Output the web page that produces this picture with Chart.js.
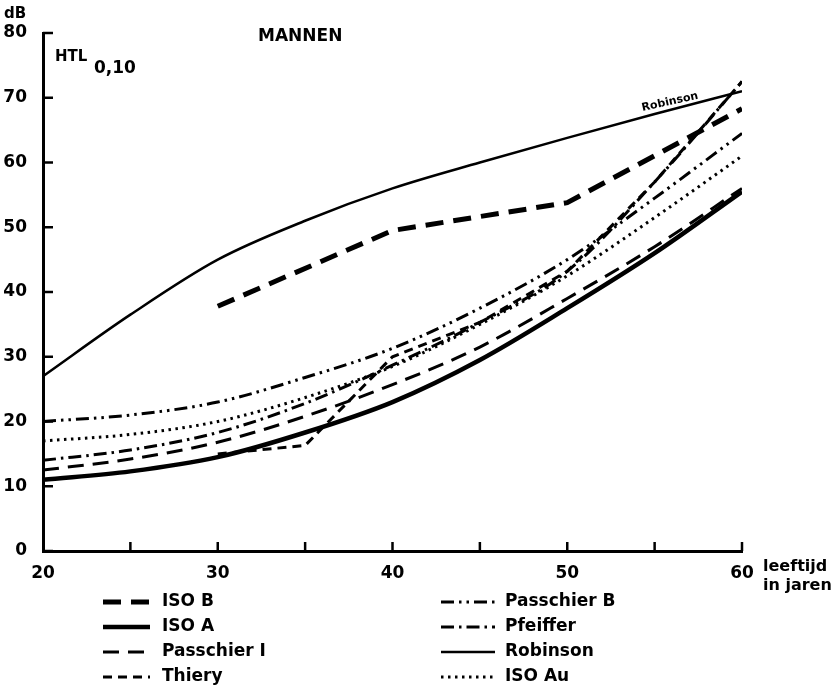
<!DOCTYPE html>
<html>
<head>
<meta charset="utf-8">
<script src="https://cdn.jsdelivr.net/npm/chart.js@4.4.1/dist/chart.umd.min.js"></script>
<style>
  body { margin: 0; background: #fff; }
  canvas { display: block; }
</style>
</head>
<body>
<canvas id="htl" width="834" height="689"></canvas>
<script>
// leeftijden (jaren) en drempelwaarden (dB)
const ages = [20, 25, 30, 35, 40, 45, 50, 55, 60];
const robinson   = [27, 36.5, 45, 51, 56, 60, 63.8, 67.5, 71];
const isoA       = [11, 12.3, 14.5, 18.3, 23, 29.5, 37.5, 46, 55.5];
const passchierI = [12.5, 14.2, 16.8, 20.8, 25.7, 31.5, 39, 47, 56];
const passchierB = [20, 21, 23, 26.8, 31.3, 37.5, 45, 54.5, 64.5];
const pfeiffer   = [14, 15.6, 18.3, 22.8, 28.7, 35.3, 43.2, 57, 72.5];
const isoAu      = [17, 18, 20, 23.7, 28.5, 35, 42.5, 51.5, 61];

const isoBAges = [30, 40, 50, 60];
const isoB     = [37.8, 49.5, 53.8, 68.3];

const thieryAges = [30, 35, 40, 45, 50, 55, 60];
const thiery     = [15, 16.3, 30, 35.3, 43.2, 57, 72.5];

const xTicks = [20, 30, 40, 50, 60];
const yTicks = [0, 10, 20, 30, 40, 50, 60, 70, 80];

const FONT = "'DejaVu Sans', sans-serif";

function pts(xs, ys) {
  return xs.map((x, i) => ({ x: x, y: ys[i] }));
}

function series(label, xs, ys, width, dash, smooth) {
  return {
    label: label,
    data: pts(xs, ys),
    borderColor: "#000",
    borderWidth: width,
    borderDash: dash,
    pointRadius: 0,
    fill: false,
    tension: smooth ? 0.4 : 0,
    cubicInterpolationMode: smooth ? "monotone" : "default"
  };
}

const datasets = [
  series("ISO B", isoBAges, isoB, 5, [18, 10], false),
  series("ISO A", ages, isoA, 4.5, [], true),
  series("Passchier I", ages, passchierI, 3, [16, 9], true),
  series("Thiery", thieryAges, thiery, 3, [9, 6], false),
  series("Passchier B", ages, passchierB, 3, [13, 5, 2.5, 5, 2.5, 5], true),
  series("Pfeiffer", ages, pfeiffer, 3, [13, 5, 2.5, 5], true),
  series("Robinson", ages, robinson, 2.5, [], true),
  series("ISO Au", ages, isoAu, 3, [2.5, 4.5], true)
];

// tekst, tickjes en legenda bovenop de grafiek
const extras = {
  id: "extras",
  afterDraw(chart) {
    const ctx = chart.ctx;
    const xs = chart.scales.x, ys = chart.scales.y;
    const area = chart.chartArea;
    ctx.save();
    ctx.strokeStyle = "#000";
    ctx.lineWidth = 2.5;
    ctx.setLineDash([]);

    // tickjes naar binnen
    yTicks.forEach(v => {
      const y = ys.getPixelForValue(v);
      ctx.beginPath();
      ctx.moveTo(area.left, y);
      ctx.lineTo(area.left + 10, y);
      ctx.stroke();
    });
    for (let a = 25; a <= 60; a += 5) {
      const x = xs.getPixelForValue(a);
      ctx.beginPath();
      ctx.moveTo(x, area.bottom);
      ctx.lineTo(x, area.bottom - 9);
      ctx.stroke();
    }

    ctx.fillStyle = "#000";
    ctx.textBaseline = "middle";
    ctx.textAlign = "left";
    ctx.font = "bold 15px " + FONT;
    ctx.fillText("dB", 4, 14);
    ctx.font = "bold 17px " + FONT;
    ctx.fillText("MANNEN", 258, 37);
    ctx.font = "bold 16px " + FONT;
    ctx.fillText("leeftijd", 763, 567);
    ctx.fillText("in jaren", 763, 586);
    ctx.font = "bold 15px " + FONT;
    ctx.fillText("HTL", 55, 57);
    ctx.font = "bold 17px " + FONT;
    ctx.fillText("0,10", 94, 69);

    // naam langs de Robinson-lijn
    ctx.save();
    ctx.translate(670, 102);
    ctx.rotate(-0.22);
    ctx.font = "bold 11px " + FONT;
    ctx.textAlign = "center";
    ctx.fillText("Robinson", 0, 0);
    ctx.restore();

    // legenda in twee kolommen
    const rows = [602, 627, 652, 677];
    chart.data.datasets.forEach((ds, i) => {
      const col = i < 4 ? 0 : 1;
      const y = rows[i % 4];
      const x0 = col === 0 ? 103 : 441;
      const x1 = col === 0 ? 150 : 495;
      ctx.lineWidth = ds.borderWidth;
      ctx.setLineDash(ds.borderDash);
      ctx.beginPath();
      ctx.moveTo(x0, y);
      ctx.lineTo(x1, y);
      ctx.stroke();
      ctx.setLineDash([]);
      ctx.font = "bold 17px " + FONT;
      ctx.fillText(ds.label, col === 0 ? 162 : 505, y);
    });
    ctx.restore();
  }
};

new Chart(document.getElementById("htl"), {
  type: "line",
  data: { datasets: datasets },
  options: {
    responsive: false,
    animation: false,
    layout: { padding: { top: 33, right: 92, bottom: 110, left: 0 } },
    plugins: {
      legend: { display: false },
      tooltip: { enabled: false }
    },
    scales: {
      x: {
        type: "linear",
        min: 20,
        max: 60,
        afterBuildTicks(scale) { scale.ticks = xTicks.map(v => ({ value: v })); },
        afterFit(scale) { scale.height = 28; },
        grid: { display: false },
        border: { display: true, color: "#000", width: 3 },
        ticks: { color: "#000", padding: 4, maxRotation: 0, font: { family: FONT, size: 17, weight: "bold" } }
      },
      y: {
        min: 0,
        max: 80,
        afterBuildTicks(scale) { scale.ticks = yTicks.map(v => ({ value: v })); },
        afterFit(scale) { scale.width = 43; },
        grid: { display: false },
        border: { display: true, color: "#000", width: 3 },
        ticks: { color: "#000", padding: 8, font: { family: FONT, size: 17, weight: "bold" } }
      }
    }
  },
  plugins: [extras]
});
</script>
</body>
</html>
